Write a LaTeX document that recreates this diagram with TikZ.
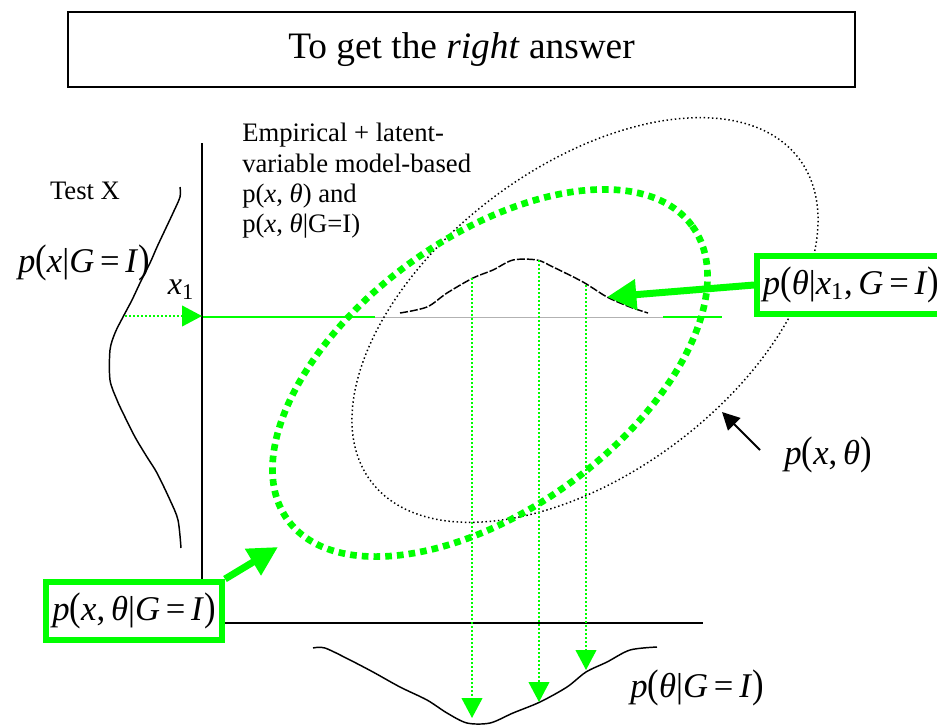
\documentclass[tikz,border=0pt]{standalone}
\usepackage{fontspec}
\setmainfont{Liberation Serif}
\usepackage{graphicx}
\usetikzlibrary{arrows.meta}
\definecolor{brightgreen}{RGB}{0,255,0}
\newcommand\mlp{\scalebox{1}[1.15]{(}}
\newcommand\mrp{\scalebox{1}[1.15]{)}}
\newcommand\meq{\,=\,}
\tikzset{
  mathlbl/.style={font=\fontsize{26}{28}\selectfont, inner sep=0pt},
  txt/.style={font=\fontsize{20}{22.7}\selectfont, inner sep=0pt},
  gbox/.style={draw=brightgreen, line width=4.5pt, fill=white, minimum height=43.5pt, inner sep=0pt,
               font=\fontsize{26}{28}\selectfont},
  thickarrow/.style={draw=brightgreen, line width=5.25pt, -{Triangle[length=22pt,width=22pt]}},
  thinarrow/.style={draw=brightgreen, line width=1.5pt, dash pattern=on 1.5pt off 1.5pt, -{Triangle[length=15pt,width=15.5pt]}},
  axisline/.style={line width=1.5pt},
  curve/.style={line width=1.1pt},
}
\begin{document}
\begin{tikzpicture}[x=0.75pt,y=-0.75pt]
\useasboundingbox (0,0) rectangle (937,725);
% title
\node[draw, line width=1.1pt, minimum width=590.25pt, minimum height=56.25pt, inner sep=0pt,
      font=\fontsize{28}{30}\selectfont] (title) at (461.5,49.5) {To get the \textit{right} answer};
% horizontal line at x1
\coordinate (h0) at (202,317);
\coordinate (h1) at (375,317);
\coordinate (h2) at (663,317);
\coordinate (h3) at (722,317);
\draw[brightgreen, line width=1.5pt] (h0) -- (h1);
\draw[black!30, line width=0.75pt] (h1) -- (h2);
\draw[brightgreen, line width=1.5pt] (h2) -- (h3);
% axes
\coordinate (ytop) at (202,143);
\coordinate (origin) at (202,623);
\coordinate (xend) at (703,623);
\draw[axisline] (ytop) -- (origin) -- (xend);
% ellipses
\draw[black, line width=1.1pt, dash pattern=on 1.1pt off 2pt, rotate around={37:(585,320)}]
  (585,320) ellipse [x radius=268, y radius=153];
\draw[brightgreen, line width=5pt, dash pattern=on 5pt off 3.8pt, rotate around={36:(490,373)}]
  (490,373) ellipse [x radius=250, y radius=136];
% left marginal curve
\draw[curve] plot[smooth] coordinates {(180,187) (180,197) (173,213) (165,230) (157,247) (150,263) (140,283) (132,300) (123,317) (115,333) (110,350) (110,380) (117,400) (123,413) (135,437) (147,457) (157,473) (170,500) (178,520) (181,548)};
% conditional curve
\draw[curve, dash pattern=on 6pt off 1.5pt] plot[smooth] coordinates {(400,313) (427,307) (447,293) (473,278) (493,270) (513,260) (537,260) (553,267) (583,282) (607,297) (630,307) (648,313)};
% bottom marginal curve
\draw[curve] plot[smooth] coordinates {(313,648) (325,648) (350,660) (373,672) (400,687) (427,700) (447,713) (467,723) (490,723) (513,713) (540,702) (567,687) (586,672) (607,662) (630,650) (657,647)};
% labels
\node[txt, anchor=base] (testx) at (85,199) {Test X};
\node[mathlbl] (pxg) at (84,263) {\textit{p}\mlp\textit{x}|\textit{G}\meq\textit{I}\mrp};
\node[font=\fontsize{24}{26}\selectfont, inner sep=0pt] (x1) at (181,290) {\textit{x}\textsubscript{1}};
\node[txt, anchor=north west, align=left] (emp) at (242,123)
  {Empirical + latent-\\variable model-based\\p(\textit{x}, \textit{θ}) and\\p(\textit{x}, \textit{θ}|G=I)};
\node[mathlbl] (ptg) at (697,688) {\textit{p}\mlp\textit{θ}|\textit{G}\meq\textit{I}\mrp};
\node[mathlbl] (pxt) at (828,455) {\textit{p}\mlp\textit{x},\,\textit{θ}\mrp};
% x1 arrow
\coordinate (x1src) at (125,316);
\coordinate (x1dst) at (202,316);
\draw[thinarrow] (x1src) -- (x1dst);
% vertical projection arrows
\coordinate (v1s) at (472,278); \coordinate (v1e) at (472,718);
\coordinate (v2s) at (539,260); \coordinate (v2e) at (539,702);
\coordinate (v3s) at (586,285); \coordinate (v3e) at (586,670);
\draw[thinarrow] (v1s) -- (v1e);
\draw[thinarrow] (v2s) -- (v2e);
\draw[thinarrow] (v3s) -- (v3e);
% black arrow to p(x,theta)
\coordinate (ptail) at (760,450);
\coordinate (ptip) at (722,412);
\draw[line width=1.5pt, -{Triangle[length=13pt,width=13pt]}] (ptail) -- (ptip);
% green boxes
\node[gbox, minimum width=141pt] (bpost) at (851,285)
  {\textit{p}\mlp\textit{θ}|\textit{x}\textsubscript{1},\,\textit{G}\meq\textit{I}\mrp};
\node[gbox, minimum width=132pt] (bjoint) at (134,611)
  {\textit{p}\mlp\textit{x},\,\textit{θ}|\textit{G}\meq\textit{I}\mrp};
\coordinate (tip1) at (607,297);
\coordinate (tip2) at (278,547);
\draw[thickarrow] (bpost.west) -- (tip1);
\draw[thickarrow] (bjoint.north east) -- (tip2);
\end{tikzpicture}
\end{document}
